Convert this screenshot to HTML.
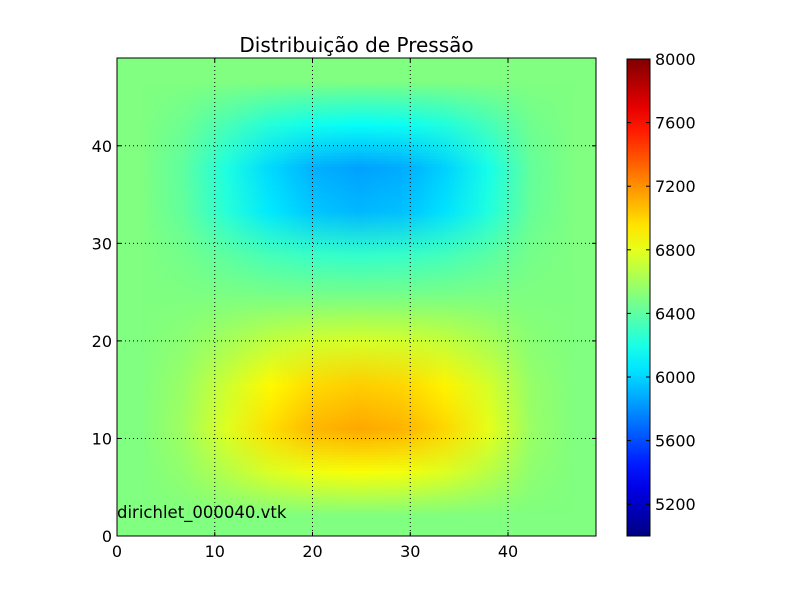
<!DOCTYPE html>
<html><head><meta charset="utf-8">
<style>
body{margin:0;background:#fff;width:800px;height:597px;overflow:hidden;font-family:"DejaVu Sans","Liberation Sans",sans-serif;}
svg text{font-family:"DejaVu Sans","Liberation Sans",sans-serif;}
#heat{position:absolute;left:117px;top:58px;width:479px;height:478px;}
</style></head>
<body>
<canvas id="heat" width="11" height="11"></canvas>
<svg id="chart" width="800" height="597" style="position:absolute;left:0;top:0"></svg>
<script>
const xTicks=[0,10,20,30,40];
const yTicks=[0,10,20,30,40];
const cbTicks=[5200,5600,6000,6400,6800,7200,7600,8000];
const gridX=[0,5,10,15,20,25,30,35,40,45,49];
const gridY=[0,5,10,15,20,25,30,35,40,45,49];
// rows from y=0 upward
const pressure=[
[6500,6500,6500,6500,6500,6500,6500,6500,6500,6500,6500],
[6500,6554,6661,6768,6832,6858,6840,6779,6672,6543,6500],
[6500,6595,6784,6973,7086,7131,7099,6992,6803,6576,6500],
[6500,6578,6734,6890,6984,7020,6994,6906,6750,6562,6500],
[6500,6539,6617,6695,6742,6760,6747,6703,6625,6531,6500],
[6500,6498,6496,6493,6491,6490,6491,6493,6496,6498,6500],
[6500,6466,6398,6329,6288,6272,6284,6323,6391,6473,6500],
[6500,6412,6237,6061,5956,5915,5944,6044,6219,6430,6500],
[6500,6402,6207,6012,5895,5850,5882,5993,6188,6422,6500],
[6500,6446,6339,6232,6168,6142,6160,6221,6328,6457,6500],
[6500,6500,6500,6500,6500,6500,6500,6500,6500,6500,6500]];
const vmin=5000,vmax=8000;
const L=117,R=596,T=58,B=536,D0=0,D1=49;
const sx=v=>L+(v-D0)/(D1-D0)*(R-L);
const sy=v=>B-(v-D0)/(D1-D0)*(B-T);
const cT=59,cB=536,cL=627,cR=650;
const cy=v=>cB-(v-vmin)/(vmax-vmin)*(cB-cT);
function jet(t){t=Math.max(0,Math.min(1,t));
 const f=x=>Math.round(255*Math.max(0,Math.min(1,x)));
 return [f(1.5-Math.abs(4*t-3)),f(1.5-Math.abs(4*t-2)),f(1.5-Math.abs(4*t-1))];}
const cv=document.getElementById('heat');const ctx=cv.getContext('2d');
const img=ctx.createImageData(gridX.length,gridY.length);
for(let r=0;r<gridY.length;r++)for(let c=0;c<gridX.length;c++){
 const col=jet((pressure[r][c]-vmin)/(vmax-vmin));const row=gridY.length-1-r;
 const i=(row*gridX.length+c)*4;img.data[i]=col[0];img.data[i+1]=col[1];img.data[i+2]=col[2];img.data[i+3]=255;}
ctx.putImageData(img,0,0);
const s=document.getElementById('chart');const NS='http://www.w3.org/2000/svg';
function el(tag,a,txt){const e=document.createElementNS(NS,tag);for(const k in a)e.setAttribute(k,a[k]);if(txt!==undefined)e.textContent=txt;s.appendChild(e);return e;}
for(const v of xTicks.slice(1)){const g=el('line',{x1:sx(v),x2:sx(v),y1:T,y2:B,stroke:'#000','stroke-width':1,'stroke-dasharray':'1,3'});

}
for(const v of yTicks.slice(1)){const g=el('line',{y1:sy(v),y2:sy(v),x1:L,x2:R,stroke:'#000','stroke-width':1,'stroke-dasharray':'1,3'});

}
for(const v of xTicks){const x=sx(v);el('line',{x1:x,x2:x,y1:B,y2:B-4,stroke:'#000'});el('line',{x1:x,x2:x,y1:T,y2:T+4,stroke:'#000'});
const t=el('text',{x:x,y:B+21,'font-size':16,'text-anchor':'middle'},v);

}
for(const v of yTicks){const y=sy(v);el('line',{x1:L,x2:L+4,y1:y,y2:y,stroke:'#000'});el('line',{x1:R,x2:R-4,y1:y,y2:y,stroke:'#000'});
const t=el('text',{x:L-5,y:y+6,'font-size':16,'text-anchor':'end'},v);

}
const fr=el('rect',{x:L,y:T,width:R-L,height:B-T,fill:'none',stroke:'#000'});


const ti=el('text',{x:(L+R)/2,y:T-6,'font-size':20,'text-anchor':'middle'},'Distribuição de Pressão');


const an=el('text',{x:L,y:518,'font-size':16.5},'dirichlet_000040.vtk');


const defs=el('defs',{});const lg=document.createElementNS(NS,'linearGradient');
lg.setAttribute('id','jg');lg.setAttribute('x1','0');lg.setAttribute('y1','1');lg.setAttribute('x2','0');lg.setAttribute('y2','0');defs.appendChild(lg);
for(let i=0;i<=20;i++){const c=jet(i/20);const st=document.createElementNS(NS,'stop');st.setAttribute('offset',i/20);st.setAttribute('stop-color',`rgb(${c})`);lg.appendChild(st);}
const cb=el('rect',{x:cL,y:cT,width:cR-cL,height:cB-cT,fill:'url(#jg)',stroke:'#000'});


for(const v of cbTicks){const y=cy(v);el('line',{x1:cL,x2:cL+4,y1:y,y2:y,stroke:'#000'});el('line',{x1:cR,x2:cR-4,y1:y,y2:y,stroke:'#000'});
const t=el('text',{x:cR+5,y:y+6,'font-size':16},v);

}
</script>
</body></html>
